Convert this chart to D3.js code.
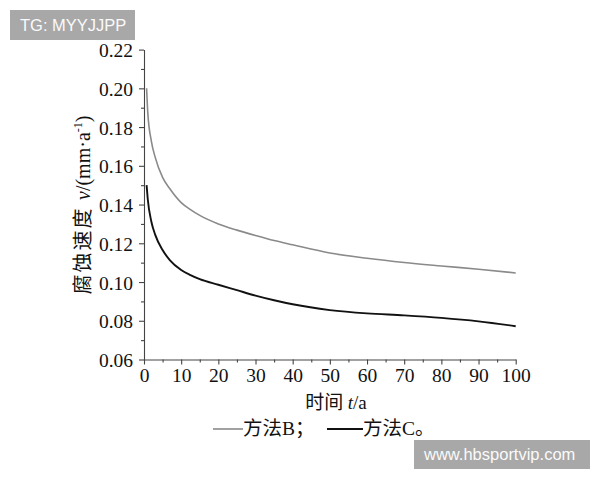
<!DOCTYPE html>
<html>
<head>
<meta charset="utf-8">
<script src="https://cdn.jsdelivr.net/npm/d3@7"></script>
<style>
  html, body { margin: 0; padding: 0; background: #fff; }
  svg { display: block; }
</style>
</head>
<body>
<svg id="chart" width="600" height="480"></svg>
<script>
// ---- data ----
const years = [0.7, 1, 2, 3, 5, 7, 10, 12.5, 15, 20, 25, 30, 35, 40, 50, 60, 70, 80, 90, 100];
const methodB = [0.200, 0.188, 0.1725, 0.1645, 0.1540, 0.1480, 0.1410, 0.1374, 0.1344, 0.1300, 0.1268, 0.1240, 0.1214, 0.1192, 0.1150, 0.1123, 0.1101, 0.1083, 0.1066, 0.1047];
const methodC = [0.150, 0.143, 0.1310, 0.1245, 0.1165, 0.1112, 0.1062, 0.1036, 0.1015, 0.0986, 0.0958, 0.0930, 0.0906, 0.0885, 0.0855, 0.0838, 0.0828, 0.0815, 0.0797, 0.0772];
const xTicks = [0, 10, 20, 30, 40, 50, 60, 70, 80, 90, 100];
const yTicks = [0.06, 0.08, 0.10, 0.12, 0.14, 0.16, 0.18, 0.20, 0.22];
const seriesNames = ["方法B；", "方法C。"];

const svg = d3.select("#chart");
const x = d3.scaleLinear().domain([0, 100]).range([144, 515.7]);
const y = d3.scaleLinear().domain([0.06, 0.22]).range([359.5, 49.6]);

const serif = "'Liberation Serif', 'Times New Roman', serif";
const cjk = "'Noto Sans CJK SC', sans-serif";

// minor ticks
const xMinor = d3.range(0, 101, 5).filter(v => v % 10 !== 0);
const yMinor = d3.range(0.07, 0.221, 0.02);

// x axis
svg.append("g").attr("transform", `translate(0,${y(0.06)})`)
  .call(d3.axisBottom(x).tickValues(xTicks).tickFormat(d3.format("d")).tickSize(5).tickSizeOuter(0).tickPadding(4));
svg.append("g").attr("transform", `translate(0,${y(0.06)})`)
  .call(d3.axisBottom(x).tickValues(xMinor).tickFormat("").tickSize(3).tickSizeOuter(0))
  .select(".domain").remove();

// y axis
const yAxis = svg.append("g").attr("transform", `translate(${x(0)},0)`)
  .call(d3.axisLeft(y).tickValues(yTicks).tickFormat(d3.format(".2f")).tickSize(5).tickSizeOuter(0).tickPadding(6));
svg.append("g").attr("transform", `translate(${x(0)},0)`)
  .call(d3.axisLeft(y).tickValues(yMinor).tickFormat("").tickSize(3).tickSizeOuter(0))
  .select(".domain").remove();

svg.selectAll(".domain, .tick line").attr("stroke", "#444").attr("stroke-width", 1.1);
svg.selectAll(".tick text").attr("fill", "#111").style("font-family", serif).style("font-size", "19.5px");
yAxis.selectAll(".tick text").attr("dy", "0.36em");

// lines
const line = d3.line().x((d, i) => x(years[i])).y(d => y(d)).curve(d3.curveMonotoneX);
svg.append("path").datum(methodB).attr("d", line)
  .attr("fill", "none").attr("stroke", "#8a8a8a").attr("stroke-width", 1.6);
svg.append("path").datum(methodC).attr("d", line)
  .attr("fill", "none").attr("stroke", "#111").attr("stroke-width", 1.9);

// x axis title
const xt = svg.append("text").attr("x", 336).attr("y", 409).attr("text-anchor", "middle")
  .attr("fill", "#111").style("font-size", "19px");
xt.append("tspan").style("font-family", cjk).text("时间 ");
xt.append("tspan").style("font-family", serif).style("font-style", "italic").text("t");
xt.append("tspan").style("font-family", serif).text("/a");

// y axis title
const yt = svg.append("text").attr("transform", "translate(90,205) rotate(-90)")
  .attr("text-anchor", "middle").attr("fill", "#111").style("font-size", "20px");
yt.append("tspan").style("font-family", cjk).attr("letter-spacing", "2px").text("腐蚀速度 ");
yt.append("tspan").style("font-family", serif).style("font-style", "italic").text("v");
yt.append("tspan").style("font-family", serif).text("/(mm·a");
yt.append("tspan").style("font-family", serif).style("font-size", "12px").attr("dy", "-8").text("-1");
yt.append("tspan").style("font-family", serif).attr("dy", "8").text(")");

// legend
const legColors = ["#8a8a8a", "#111"];
const legX = [213, 327];
seriesNames.forEach((name, i) => {
  const len = i === 0 ? 30 : 36;
  svg.append("line").attr("x1", legX[i]).attr("x2", legX[i] + len)
    .attr("y1", 429).attr("y2", 429).attr("stroke", legColors[i]).attr("stroke-width", i === 0 ? 1.6 : 2);
  const t = svg.append("text").attr("x", legX[i] + len).attr("y", 435)
    .attr("fill", "#111").style("font-size", "19.5px");
  t.append("tspan").style("font-family", cjk).text(name.slice(0, 2));
  t.append("tspan").style("font-family", serif).text(name.slice(2, 3));
  t.append("tspan").style("font-family", cjk).text(name.slice(3));
});

// watermark boxes
svg.append("rect").attr("x", 10).attr("y", 10).attr("width", 125).attr("height", 30).attr("fill", "#a8a8a8");
svg.append("text").attr("x", 20).attr("y", 31).attr("fill", "#fafafa")
  .style("font-family", "'Liberation Sans', Arial, sans-serif").style("font-size", "16.5px").text("TG: MYYJJPP");
svg.append("rect").attr("x", 414).attr("y", 440).attr("width", 176).attr("height", 29).attr("fill", "#a8a8a8");
svg.append("text").attr("x", 424).attr("y", 460).attr("fill", "#fafafa")
  .style("font-family", "'Liberation Sans', Arial, sans-serif").style("font-size", "16.5px").text("www.hbsportvip.com");
</script>
</body>
</html>
